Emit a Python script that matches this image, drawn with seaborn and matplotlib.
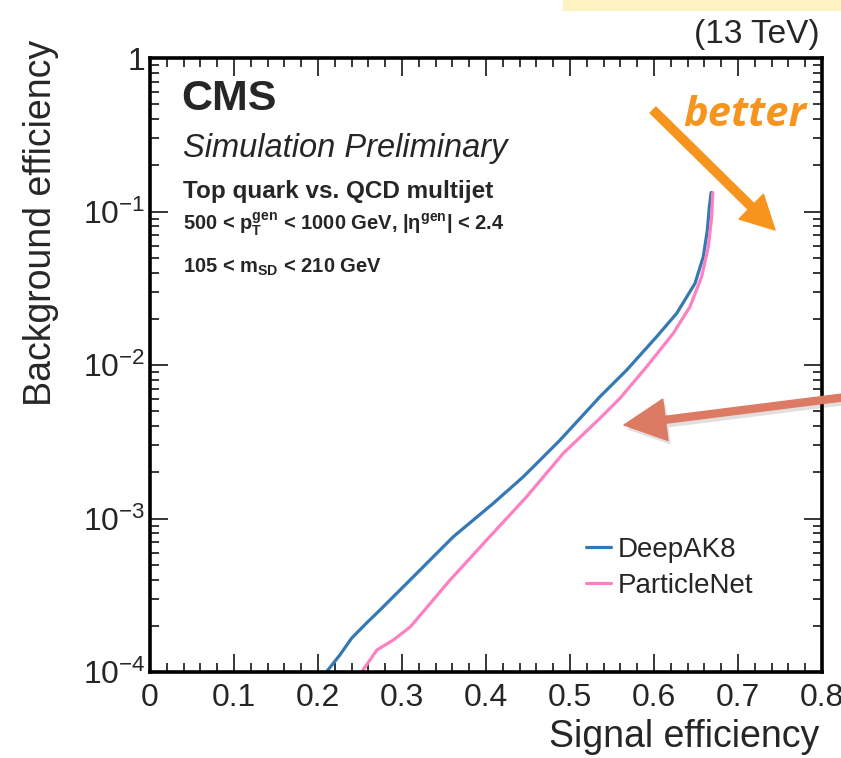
import numpy as np
import pandas as pd
import matplotlib
matplotlib.use('Agg')
import matplotlib.pyplot as plt
import seaborn as sns
from matplotlib.ticker import FuncFormatter, MultipleLocator, LogLocator, NullFormatter
from matplotlib.patches import FancyArrowPatch, Rectangle
from matplotlib import patheffects

# ROC curves (signal eff., background eff.)
deepak8_sig = [0.210, 0.226, 0.240, 0.258, 0.274, 0.3095, 0.361, 0.4087, 0.4444, 0.4881,
               0.5357, 0.5675, 0.6032, 0.627, 0.6488, 0.6587, 0.6635, 0.6659, 0.668]
deepak8_bkg = [1.0e-4, 1.29e-4, 1.66e-4, 2.09e-4, 2.54e-4, 3.97e-4, 7.6e-4, 1.256e-3, 1.87e-3, 3.24e-3,
               6.22e-3, 9.27e-3, 1.53e-2, 2.17e-2, 3.40e-2, 5.08e-2, 7.57e-2, 0.107, 0.133]
pnet_sig = [0.252, 0.270, 0.290, 0.310, 0.3571, 0.4008, 0.4484, 0.492, 0.5357,
            0.5595, 0.5913, 0.623, 0.6429, 0.6567, 0.6647, 0.6687, 0.670]
pnet_bkg = [1.0e-4, 1.39e-4, 1.62e-4, 1.97e-4, 3.97e-4, 7.24e-4, 1.387e-3, 2.66e-3, 4.50e-3,
            6.07e-3, 9.75e-3, 1.61e-2, 2.40e-2, 3.76e-2, 5.90e-2, 9.25e-2, 0.133]
models = ['DeepAK8', 'ParticleNet']
colors = ['#3478b4', '#ff80c0']

x_ticks = [0, 0.1, 0.2, 0.3, 0.4, 0.5, 0.6, 0.7, 0.8]
y_ticks = [1e-4, 1e-3, 1e-2, 1e-1, 1]

sns.set_style('ticks')
plt.rcParams['font.family'] = ['Liberation Sans', 'DejaVu Sans']
plt.rcParams['mathtext.fontset'] = 'custom'
plt.rcParams['mathtext.rm'] = 'Liberation Sans'
plt.rcParams['mathtext.it'] = 'Liberation Sans:italic'
plt.rcParams['mathtext.bf'] = 'Liberation Sans:bold'
plt.rcParams['mathtext.sf'] = 'Liberation Sans'

W, H = 841, 758
fig = plt.figure(figsize=(W / 100, H / 100), dpi=100)
fig.patch.set_facecolor('white')
ax = fig.add_axes([150 / W, 1 - 672 / H, 672 / W, 614 / H])

df = pd.concat([
    pd.DataFrame({'sig': deepak8_sig, 'bkg': deepak8_bkg, 'model': models[0]}),
    pd.DataFrame({'sig': pnet_sig, 'bkg': pnet_bkg, 'model': models[1]}),
])
for name, col in zip(models, colors):
    sns.lineplot(data=df[df['model'] == name], x='sig', y='bkg', color=col,
                 estimator=None, sort=False, lw=2.3, label=name, ax=ax)

ax.set_yscale('log')
ax.set_xlim(0, 0.8)
ax.set_ylim(1e-4, 1)
ax.set_xticks(x_ticks)
ax.set_yticks(y_ticks)
ax.xaxis.set_minor_locator(MultipleLocator(0.02))
ax.yaxis.set_minor_locator(LogLocator(base=10, subs=np.arange(2, 10)))
ax.yaxis.set_minor_formatter(NullFormatter())
ax.xaxis.set_major_formatter(FuncFormatter(lambda v, p: '0' if v == 0 else f'{v:.1f}'))
ax.yaxis.set_major_formatter(FuncFormatter(
    lambda v, p: '1' if np.isclose(v, 1) else r'$10^{%d}$' % round(np.log10(v))))

for s in ax.spines.values():
    s.set_linewidth(2.6)
    s.set_color('black')
ax.tick_params(which='both', direction='in', top=True, right=True, width=1.1, color='black')
ax.tick_params(which='major', length=13, labelsize=23)
ax.tick_params(which='minor', length=6.5)
ax.tick_params(axis='x', which='major', pad=8)
ax.tick_params(axis='y', which='major', pad=3)

ax.set_xlabel('Signal efficiency', fontsize=27, ha='right', va='baseline')
ax.xaxis.set_label_coords(819 / W, 1 - 747 / H, transform=fig.transFigure)
ax.set_ylabel('Background efficiency', fontsize=27, ha='right', va='top')
ax.yaxis.set_label_coords(23 / W, 1 - 40 / H, transform=fig.transFigure)

ax.legend(loc='upper left', bbox_to_anchor=(586 / W, 1 - 537 / H), bbox_transform=fig.transFigure,
          frameon=False, fontsize=20, handlelength=0.9, handletextpad=0.25,
          labelspacing=0.35, borderpad=0, borderaxespad=0)

def ftext(x, y, s, **kw):
    fig.text(x / W, 1 - y / H, s, va='baseline', **kw)

ftext(181, 110, 'CMS', fontsize=31, fontweight='bold')
ftext(183, 157, 'Simulation Preliminary', fontsize=23.5, style='italic')
ftext(183, 198, 'Top quark vs. QCD multijet', fontsize=17.5, fontweight='bold')
ftext(183, 230, r'500 < $\mathbf{p_{T}^{gen}}$ < 1000 GeV, |$\mathbf{\eta^{gen}}$| < 2.4',
      fontsize=14.5, fontweight='bold')
ftext(183, 273, r'105 < $\mathbf{m_{SD}}$ < 210 GeV', fontsize=14.5, fontweight='bold')
ftext(820, 43, '(13 TeV)', fontsize=24, ha='right')

# highlight band and annotation arrows
fig.patches.append(Rectangle((563 / W, 1 - 10 / H), 1, 10 / H, transform=fig.transFigure,
                             color='#fdf3c2', zorder=0))
orange = '#f7941e'
ftext(683, 126, 'better', fontsize=30, fontweight='bold', style='italic',
      color=orange, family=['Open Sans', 'DejaVu Sans'])
fig.add_artist(FancyArrowPatch((653 / W, 1 - 110 / H), (775 / W, 1 - 230 / H),
                               transform=fig.transFigure, color=orange, shrinkA=0, shrinkB=0,
                               arrowstyle='simple,tail_width=0.6,head_width=2.5,head_length=2.4',
                               mutation_scale=10))
red_arrow = FancyArrowPatch((870 / W, 1 - 394 / H), (624 / W, 1 - 425 / H),
                            transform=fig.transFigure, color='#dd7a64', shrinkA=0, shrinkB=0,
                            arrowstyle='simple,tail_width=0.5,head_width=3.0,head_length=3.0',
                            mutation_scale=10)
red_arrow.set_path_effects([patheffects.SimplePatchShadow(offset=(2, -3), alpha=0.15),
                            patheffects.Normal()])
fig.add_artist(red_arrow)

fig.savefig('out.png', dpi=100)
